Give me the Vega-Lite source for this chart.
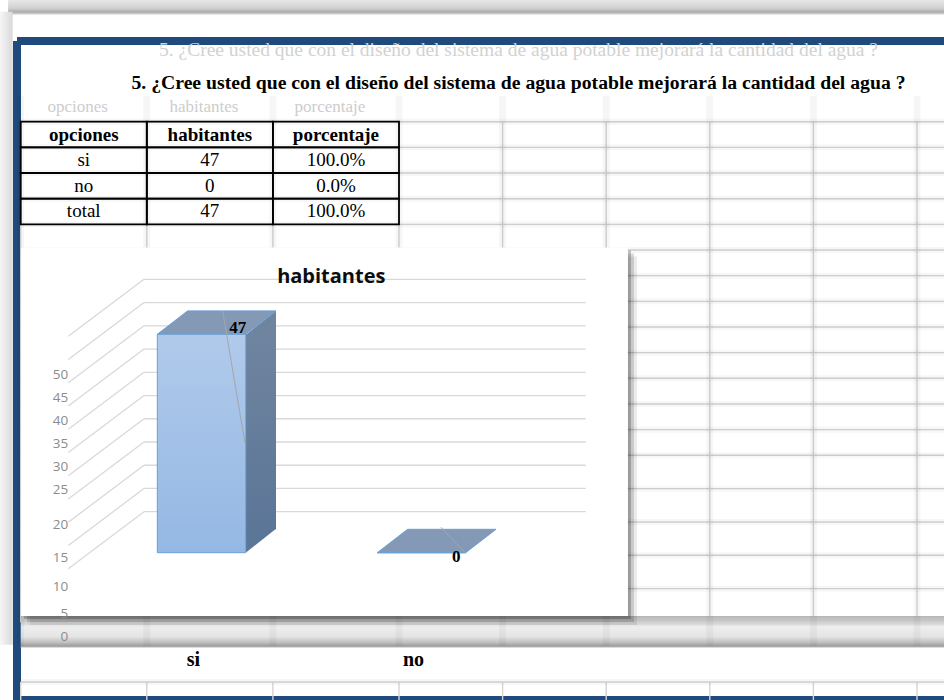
{
  "$schema": "https://vega.github.io/schema/vega-lite/v6.json",
  "width": 927,
  "height": 659,
  "autosize": "none",
  "padding": {"left": 17, "top": 41, "right": 0, "bottom": 0},
  "background": "#ffffff",
  "title": {
    "text": "5. ¿Cree usted que con el diseño del sistema de agua potable mejorará la cantidad del agua ?",
    "subtitle": "5. ¿Cree usted que con el diseño del sistema de agua potable mejorará la cantidad del agua ?",
    "anchor": "middle",
    "frame": "group",
    "offset": -94,
    "dx": 38,
    "font": "Liberation Serif",
    "fontSize": 19.5,
    "fontWeight": "normal",
    "color": "#d2d2d2",
    "subtitleFont": "Liberation Serif",
    "subtitleFontSize": 19.7,
    "subtitleFontWeight": "bold",
    "subtitleColor": "#000000",
    "subtitlePadding": 13
  },
  "config": {
    "view": {"stroke": "#1f4a7c", "strokeWidth": 8, "strokeDash": [927, 659, 1586, 0], "fill": "#ffffff"}
  },
  "datasets": {
    "tabla": [
      {"opciones": "si", "habitantes": 47, "porcentaje": "100.0%"},
      {"opciones": "no", "habitantes": 0, "porcentaje": "0.0%"},
      {"opciones": "total", "habitantes": 47, "porcentaje": "100.0%"}
    ],
    "marcas": [{"v": 0}, {"v": 5}, {"v": 10}, {"v": 15}, {"v": 20}, {"v": 25}, {"v": 30}, {"v": 35}, {"v": 40}, {"v": 45}, {"v": 50}],
    "columnas": [{"borde": 0}, {"borde": 1}, {"borde": 2}, {"borde": 3}, {"borde": 4}, {"borde": 5}, {"borde": 6}, {"borde": 7}, {"borde": 8}, {"borde": 9}],
    "filas": [{"fila": 0}, {"fila": 1}, {"fila": 2}, {"fila": 3}, {"fila": 4}, {"fila": 5}, {"fila": 6}, {"fila": 7}, {"fila": 8}, {"fila": 9}, {"fila": 10}, {"fila": 11}, {"fila": 12}, {"fila": 13}, {"fila": 14}, {"fila": 15}, {"fila": 16}, {"fila": 17}, {"fila": 18}, {"fila": 19}],
    "hoja": [{"objeto": "gráfico"}]
  },
  "layer": [
    {
      "layer": [
        {
          "data": {"name": "hoja"},
          "mark": {"type": "rect", "fill": {"gradient": "linear", "x1": 0, "y1": 0, "x2": 0, "y2": 1, "stops": [{"offset": 0, "color": "#e8e8e8"}, {"offset": 0.55, "color": "#d0d0d0"}, {"offset": 0.8, "color": "#ababab"}, {"offset": 0.92, "color": "#d4d4d4"}, {"offset": 1, "color": "#ffffff"}]}},
          "encoding": {
            "x": {"datum": -0.1, "type": "quantitative", "scale": {"domain": [0, 3, 8], "range": [3.7, 382, 900], "nice": false, "zero": false}, "axis": null},
            "x2": {"datum": 9},
            "y": {"datum": -4.75, "type": "quantitative", "scale": {"domain": [0, 13, 18, 19], "range": [80.7, 414.3, 581, 641], "nice": false, "zero": false}, "axis": null},
            "y2": {"datum": -4.15}
          }
        },
        {
          "data": {"name": "hoja"},
          "mark": {"type": "rect", "fill": {"gradient": "linear", "x1": 0, "y1": 0, "x2": 1, "y2": 0, "stops": [{"offset": 0, "color": "#f6f6f6"}, {"offset": 1, "color": "#d9d9d9"}]}},
          "encoding": {
            "x": {"datum": -0.164, "type": "quantitative", "scale": {"domain": [0, 3, 8], "range": [3.7, 382, 900], "nice": false, "zero": false}, "axis": null},
            "x2": {"datum": -0.0634},
            "y": {"datum": -4.28, "type": "quantitative", "scale": {"domain": [0, 13, 18, 19], "range": [80.7, 414.3, 581, 641], "nice": false, "zero": false}, "axis": null},
            "y2": {"datum": 18.38}
          }
        },
        {
          "data": {"name": "columnas"},
          "mark": {"type": "rule", "color": "#d4d4d4", "strokeWidth": 1.4},
          "encoding": {
            "x": {"field": "borde", "type": "quantitative", "scale": {"domain": [0, 3, 8], "range": [3.7, 382, 900], "nice": false, "zero": false}, "axis": null},
            "y": {"datum": 0, "type": "quantitative", "scale": {"domain": [0, 13, 18, 19], "range": [80.7, 414.3, 581, 641], "nice": false, "zero": false}, "axis": null},
            "y2": {"datum": 18}
          }
        },
        {
          "data": {"name": "columnas"},
          "mark": {"type": "rule", "color": "#d4d4d4", "strokeWidth": 1.4},
          "encoding": {
            "x": {"field": "borde", "type": "quantitative", "scale": {"domain": [0, 3, 8], "range": [3.7, 382, 900], "nice": false, "zero": false}, "axis": null},
            "y": {"datum": 19, "type": "quantitative", "scale": {"domain": [0, 13, 18, 19], "range": [80.7, 414.3, 581, 641], "nice": false, "zero": false}, "axis": null},
            "y2": {"datum": 20}
          }
        },
        {
          "data": {"name": "filas"},
          "mark": {"type": "rule", "color": "#d4d4d4", "strokeWidth": 1.4},
          "encoding": {
            "x": {"datum": 0, "type": "quantitative", "scale": {"domain": [0, 3, 8], "range": [3.7, 382, 900], "nice": false, "zero": false}, "axis": null},
            "x2": {"datum": 9},
            "y": {"field": "fila", "type": "quantitative", "scale": {"domain": [0, 13, 18, 19], "range": [80.7, 414.3, 581, 641], "nice": false, "zero": false}, "axis": null}
          }
        },
        {
          "data": {"name": "hoja"},
          "mark": {"type": "rect", "fill": {"gradient": "linear", "x1": 0, "y1": 0, "x2": 0, "y2": 1, "stops": [{"offset": 0, "color": "#b4b4b4"}, {"offset": 0.2, "color": "#d8d8d8"}, {"offset": 0.35, "color": "#eeeeee"}, {"offset": 0.65, "color": "#e4e4e4"}, {"offset": 0.82, "color": "#c2c2c2"}, {"offset": 0.95, "color": "#9c9c9c"}, {"offset": 1, "color": "#dcdcdc"}]}},
          "encoding": {
            "x": {"datum": 0, "type": "quantitative", "scale": {"domain": [0, 3, 8], "range": [3.7, 382, 900], "nice": false, "zero": false}, "axis": null},
            "x2": {"datum": 9},
            "y": {"datum": 17.82, "type": "quantitative", "scale": {"domain": [0, 13, 18, 19], "range": [80.7, 414.3, 581, 641], "nice": false, "zero": false}, "axis": null},
            "y2": {"datum": 18.43}
          }
        },
        {
          "data": {"name": "columnas"},
          "mark": {"type": "rule", "color": "#000000", "opacity": 0.035, "strokeWidth": 7},
          "encoding": {
            "x": {"field": "borde", "type": "quantitative", "scale": {"domain": [0, 3, 8], "range": [3.7, 382, 900], "nice": false, "zero": false}, "axis": null},
            "y": {"datum": -1, "type": "quantitative", "scale": {"domain": [0, 13, 18, 19], "range": [80.7, 414.3, 581, 641], "nice": false, "zero": false}, "axis": null},
            "y2": {"datum": 18.4}
          }
        },
        {
          "data": {"name": "filas"},
          "mark": {"type": "rule", "color": "#000000", "opacity": 0.03, "strokeWidth": 6},
          "encoding": {
            "x": {"datum": 0, "type": "quantitative", "scale": {"domain": [0, 3, 8], "range": [3.7, 382, 900], "nice": false, "zero": false}, "axis": null},
            "x2": {"datum": 9},
            "y": {"field": "fila", "type": "quantitative", "scale": {"domain": [0, 13, 18, 19], "range": [80.7, 414.3, 581, 641], "nice": false, "zero": false}, "axis": null}
          }
        },
        {
          "data": {"name": "hoja"},
          "mark": {"type": "rect", "color": "#000000", "opacity": 0.08, "xOffset": 9, "x2Offset": 9, "yOffset": 9, "y2Offset": 9},
          "encoding": {
            "x": {"datum": 0.003, "type": "quantitative", "scale": {"domain": [0, 3, 8], "range": [3.7, 382, 900], "nice": false, "zero": false}, "axis": null},
            "x2": {"datum": 5.21},
            "y": {"datum": 4.9, "type": "quantitative", "scale": {"domain": [0, 13, 18, 19], "range": [80.7, 414.3, 581, 641], "nice": false, "zero": false}, "axis": null},
            "y2": {"datum": 17.82}
          }
        },
        {
          "data": {"name": "hoja"},
          "mark": {"type": "rect", "color": "#000000", "opacity": 0.14, "xOffset": 6, "x2Offset": 6, "yOffset": 6, "y2Offset": 6},
          "encoding": {
            "x": {"datum": 0.003, "type": "quantitative", "scale": {"domain": [0, 3, 8], "range": [3.7, 382, 900], "nice": false, "zero": false}, "axis": null},
            "x2": {"datum": 5.21},
            "y": {"datum": 4.9, "type": "quantitative", "scale": {"domain": [0, 13, 18, 19], "range": [80.7, 414.3, 581, 641], "nice": false, "zero": false}, "axis": null},
            "y2": {"datum": 17.82}
          }
        },
        {
          "data": {"name": "hoja"},
          "mark": {"type": "rect", "color": "#000000", "opacity": 0.22, "xOffset": 3, "x2Offset": 3, "yOffset": 3, "y2Offset": 3},
          "encoding": {
            "x": {"datum": 0.003, "type": "quantitative", "scale": {"domain": [0, 3, 8], "range": [3.7, 382, 900], "nice": false, "zero": false}, "axis": null},
            "x2": {"datum": 5.21},
            "y": {"datum": 4.9, "type": "quantitative", "scale": {"domain": [0, 13, 18, 19], "range": [80.7, 414.3, 581, 641], "nice": false, "zero": false}, "axis": null},
            "y2": {"datum": 17.82}
          }
        },
        {
          "data": {"name": "hoja"},
          "mark": {"type": "rect", "color": "#ffffff"},
          "encoding": {
            "x": {"datum": 0.003, "type": "quantitative", "scale": {"domain": [0, 3, 8], "range": [3.7, 382, 900], "nice": false, "zero": false}, "axis": null},
            "x2": {"datum": 5.21},
            "y": {"datum": 4.9, "type": "quantitative", "scale": {"domain": [0, 13, 18, 19], "range": [80.7, 414.3, 581, 641], "nice": false, "zero": false}, "axis": null},
            "y2": {"datum": 17.82}
          }
        }
      ]
    },
    {
      "layer": [
        {
          "data": {"name": "tabla"},
          "transform": [
            {"fold": ["opciones", "habitantes", "porcentaje"], "as": ["columna", "valor"]},
            {"aggregate": [{"op": "count", "as": "n"}], "groupby": ["columna"]}
          ],
          "mark": {"type": "text", "font": "Liberation Serif", "fontSize": 17, "color": "#cdcdcd", "dx": -6, "dy": -2},
          "encoding": {
            "x": {"field": "columna", "type": "nominal", "scale": {"type": "band", "domain": ["opciones", "habitantes", "porcentaje"], "range": [3.7, 382], "paddingInner": 0, "paddingOuter": 0}, "axis": null},
            "y": {"datum": "sombra", "type": "nominal", "scale": {"type": "band", "domain": ["sombra", "cabecera", "si", "no", "total"], "range": [55.05, 183.3], "paddingInner": 0, "paddingOuter": 0}, "axis": null},
            "text": {"field": "columna", "type": "nominal"}
          }
        },
        {
          "data": {"name": "tabla"},
          "transform": [
            {"fold": ["opciones", "habitantes", "porcentaje"], "as": ["columna", "valor"]},
            {"aggregate": [{"op": "count", "as": "n"}], "groupby": ["columna"]}
          ],
          "mark": {"type": "rect", "filled": false, "color": "#000000", "strokeWidth": 1.8},
          "encoding": {
            "x": {"field": "columna", "type": "nominal", "scale": {"type": "band", "domain": ["opciones", "habitantes", "porcentaje"], "range": [3.7, 382], "paddingInner": 0, "paddingOuter": 0}, "axis": null},
            "y": {"datum": "cabecera", "type": "nominal", "scale": {"type": "band", "domain": ["sombra", "cabecera", "si", "no", "total"], "range": [55.05, 183.3], "paddingInner": 0, "paddingOuter": 0}, "axis": null}
          }
        },
        {
          "data": {"name": "tabla"},
          "transform": [
            {"fold": ["opciones", "habitantes", "porcentaje"], "as": ["columna", "valor"]},
            {"aggregate": [{"op": "count", "as": "n"}], "groupby": ["columna"]}
          ],
          "mark": {"type": "text", "font": "Liberation Serif", "fontSize": 19, "fontWeight": "bold", "color": "#000000"},
          "encoding": {
            "x": {"field": "columna", "type": "nominal", "scale": {"type": "band", "domain": ["opciones", "habitantes", "porcentaje"], "range": [3.7, 382], "paddingInner": 0, "paddingOuter": 0}, "axis": null},
            "y": {"datum": "cabecera", "type": "nominal", "scale": {"type": "band", "domain": ["sombra", "cabecera", "si", "no", "total"], "range": [55.05, 183.3], "paddingInner": 0, "paddingOuter": 0}, "axis": null},
            "text": {"field": "columna", "type": "nominal"}
          }
        },
        {
          "data": {"name": "tabla"},
          "transform": [{"fold": ["opciones", "habitantes", "porcentaje"], "as": ["columna", "valor"]}],
          "mark": {"type": "rect", "filled": false, "color": "#000000", "strokeWidth": 1.8},
          "encoding": {
            "x": {"field": "columna", "type": "nominal", "scale": {"type": "band", "domain": ["opciones", "habitantes", "porcentaje"], "range": [3.7, 382], "paddingInner": 0, "paddingOuter": 0}, "axis": null},
            "y": {"field": "opciones", "type": "nominal", "scale": {"type": "band", "domain": ["sombra", "cabecera", "si", "no", "total"], "range": [55.05, 183.3], "paddingInner": 0, "paddingOuter": 0}, "axis": null}
          }
        },
        {
          "data": {"name": "tabla"},
          "transform": [{"fold": ["opciones", "habitantes", "porcentaje"], "as": ["columna", "valor"]}],
          "mark": {"type": "text", "font": "Liberation Serif", "fontSize": 19, "color": "#000000"},
          "encoding": {
            "x": {"field": "columna", "type": "nominal", "scale": {"type": "band", "domain": ["opciones", "habitantes", "porcentaje"], "range": [3.7, 382], "paddingInner": 0, "paddingOuter": 0}, "axis": null},
            "y": {"field": "opciones", "type": "nominal", "scale": {"type": "band", "domain": ["sombra", "cabecera", "si", "no", "total"], "range": [55.05, 183.3], "paddingInner": 0, "paddingOuter": 0}, "axis": null},
            "text": {"field": "valor", "type": "nominal"}
          }
        }
      ]
    },
    {
      "layer": [
        {
          "data": {"name": "marcas"},
          "mark": {"type": "rule", "color": "#d9d9d9", "strokeWidth": 1.3, "xOffset": -57.5, "x2Offset": 384.2, "yOffset": -41, "y2Offset": -41},
          "encoding": {
            "x": {"datum": "si", "type": "nominal", "scale": {"type": "band", "domain": ["si", "no"], "range": [74.5, 514.5], "paddingInner": 0, "paddingOuter": 0}, "axis": null},
            "x2": {"datum": "si"},
            "y": {"field": "v", "type": "quantitative", "scale": {"domain": [0, 50], "range": [511.7, 279.35], "nice": false, "zero": false}, "axis": null},
            "y2": {"field": "v"}
          }
        },
        {
          "data": {"name": "marcas"},
          "mark": {"type": "rule", "color": "#d9d9d9", "strokeWidth": 1.3, "xOffset": -57.5, "x2Offset": -133.2, "yOffset": -41, "y2Offset": 16},
          "encoding": {
            "x": {"datum": "si", "type": "nominal", "scale": {"type": "band", "domain": ["si", "no"], "range": [74.5, 514.5], "paddingInner": 0, "paddingOuter": 0}, "axis": null},
            "x2": {"datum": "si"},
            "y": {"field": "v", "type": "quantitative", "scale": {"domain": [0, 50], "range": [511.7, 279.35], "nice": false, "zero": false}, "axis": null},
            "y2": {"field": "v"}
          }
        },
        {
          "data": {"name": "tabla"},
          "transform": [{"filter": "datum.opciones !== 'total' && datum.habitantes > 0"}],
          "mark": {"type": "bar", "width": 30.3, "xOffset": 59.35, "y2Offset": -23.4, "fill": {"gradient": "linear", "x1": 0, "y1": 0, "x2": 0, "y2": 1, "stops": [{"offset": 0, "color": "#6f849f"}, {"offset": 1, "color": "#5c7698"}]}},
          "encoding": {
            "x": {"field": "opciones", "type": "nominal", "scale": {"type": "band", "domain": ["si", "no"], "range": [74.5, 514.5], "paddingInner": 0, "paddingOuter": 0}, "axis": null},
            "y": {"field": "habitantes", "type": "quantitative", "scale": {"domain": [0, 50], "range": [511.7, 279.35], "nice": false, "zero": false}, "axis": null},
            "y2": {"datum": 0}
          }
        },
        {
          "data": {"name": "tabla"},
          "transform": [{"filter": "datum.opciones !== 'total' && datum.habitantes > 0"}],
          "mark": {"type": "point", "shape": "M44.2,0.6L74.5,-23.4L74.5,0.6Z", "size": 4, "filled": true, "opacity": 1, "fill": "#6f849f", "strokeWidth": 0},
          "encoding": {
            "x": {"field": "opciones", "type": "nominal", "scale": {"type": "band", "domain": ["si", "no"], "range": [74.5, 514.5], "paddingInner": 0, "paddingOuter": 0}, "axis": null},
            "y": {"field": "habitantes", "type": "quantitative", "scale": {"domain": [0, 50], "range": [511.7, 279.35], "nice": false, "zero": false}, "axis": null}
          }
        },
        {
          "data": {"name": "tabla"},
          "transform": [{"filter": "datum.opciones !== 'total' && datum.habitantes > 0"}],
          "mark": {"type": "point", "shape": "M44.2,-23.9L74.5,-23.9L44.2,0Z", "size": 4, "filled": true, "opacity": 1, "fill": "#5c7698", "strokeWidth": 0},
          "encoding": {
            "x": {"field": "opciones", "type": "nominal", "scale": {"type": "band", "domain": ["si", "no"], "range": [74.5, 514.5], "paddingInner": 0, "paddingOuter": 0}, "axis": null},
            "y": {"datum": 0, "type": "quantitative", "scale": {"domain": [0, 50], "range": [511.7, 279.35], "nice": false, "zero": false}, "axis": null}
          }
        },
        {
          "data": {"name": "tabla"},
          "transform": [{"filter": "datum.opciones !== 'total'"}],
          "mark": {"type": "point", "shape": "M-44.2,0L44.2,0L74.5,-23.4L-13.9,-23.4Z", "size": 4, "filled": true, "opacity": 1, "fill": "#8499b6", "stroke": "#6a9fd8", "strokeWidth": 1},
          "encoding": {
            "x": {"field": "opciones", "type": "nominal", "scale": {"type": "band", "domain": ["si", "no"], "range": [74.5, 514.5], "paddingInner": 0, "paddingOuter": 0}, "axis": null},
            "y": {"field": "habitantes", "type": "quantitative", "scale": {"domain": [0, 50], "range": [511.7, 279.35], "nice": false, "zero": false}, "axis": null}
          }
        },
        {
          "data": {"name": "tabla"},
          "transform": [{"filter": "datum.opciones !== 'total'"}],
          "mark": {"type": "bar", "width": 88.4, "stroke": "#6a9fd8", "strokeWidth": 1, "fill": {"gradient": "linear", "x1": 0, "y1": 0, "x2": 0, "y2": 1, "stops": [{"offset": 0, "color": "#b0caeb"}, {"offset": 1, "color": "#94b8e4"}]}},
          "encoding": {
            "x": {"field": "opciones", "type": "nominal", "scale": {"type": "band", "domain": ["si", "no"], "range": [74.5, 514.5], "paddingInner": 0, "paddingOuter": 0}, "axis": null},
            "y": {"field": "habitantes", "type": "quantitative", "scale": {"domain": [0, 50], "range": [511.7, 279.35], "nice": false, "zero": false}, "axis": null},
            "y2": {"datum": 0}
          }
        },
        {
          "data": {"name": "tabla"},
          "transform": [{"filter": "datum.opciones !== 'total' && datum.habitantes > 0"}],
          "mark": {"type": "rule", "color": "#a6a6a6", "strokeWidth": 1, "xOffset": 21.2, "x2Offset": 43.5, "yOffset": -23.3, "y2Offset": 109},
          "encoding": {
            "x": {"field": "opciones", "type": "nominal", "scale": {"type": "band", "domain": ["si", "no"], "range": [74.5, 514.5], "paddingInner": 0, "paddingOuter": 0}, "axis": null},
            "x2": {"field": "opciones"},
            "y": {"field": "habitantes", "type": "quantitative", "scale": {"domain": [0, 50], "range": [511.7, 279.35], "nice": false, "zero": false}, "axis": null},
            "y2": {"field": "habitantes"}
          }
        },
        {
          "data": {"name": "tabla"},
          "transform": [{"filter": "datum.opciones !== 'total' && datum.habitantes == 0"}],
          "mark": {"type": "rule", "color": "#a6a6a6", "strokeWidth": 1, "xOffset": 19.5, "x2Offset": 43.5, "yOffset": -25.4, "y2Offset": 0},
          "encoding": {
            "x": {"field": "opciones", "type": "nominal", "scale": {"type": "band", "domain": ["si", "no"], "range": [74.5, 514.5], "paddingInner": 0, "paddingOuter": 0}, "axis": null},
            "x2": {"field": "opciones"},
            "y": {"field": "habitantes", "type": "quantitative", "scale": {"domain": [0, 50], "range": [511.7, 279.35], "nice": false, "zero": false}, "axis": null},
            "y2": {"field": "habitantes"}
          }
        },
        {
          "data": {"name": "tabla"},
          "transform": [{"filter": "datum.opciones !== 'total' && datum.habitantes > 0"}],
          "mark": {"type": "text", "font": "Liberation Serif", "fontSize": 17, "fontWeight": "bold", "color": "#000000", "dx": 36.2, "dy": -6.3, "baseline": "middle"},
          "encoding": {
            "x": {"field": "opciones", "type": "nominal", "scale": {"type": "band", "domain": ["si", "no"], "range": [74.5, 514.5], "paddingInner": 0, "paddingOuter": 0}, "axis": null},
            "y": {"field": "habitantes", "type": "quantitative", "scale": {"domain": [0, 50], "range": [511.7, 279.35], "nice": false, "zero": false}, "axis": null},
            "text": {"field": "habitantes", "type": "quantitative"}
          }
        },
        {
          "data": {"name": "tabla"},
          "transform": [{"filter": "datum.opciones !== 'total' && datum.habitantes == 0"}],
          "mark": {"type": "text", "font": "Liberation Serif", "fontSize": 17, "fontWeight": "bold", "color": "#000000", "dx": 34.7, "dy": 4.5, "baseline": "middle"},
          "encoding": {
            "x": {"field": "opciones", "type": "nominal", "scale": {"type": "band", "domain": ["si", "no"], "range": [74.5, 514.5], "paddingInner": 0, "paddingOuter": 0}, "axis": null},
            "y": {"field": "habitantes", "type": "quantitative", "scale": {"domain": [0, 50], "range": [511.7, 279.35], "nice": false, "zero": false}, "axis": null},
            "text": {"field": "habitantes", "type": "quantitative"}
          }
        },
        {
          "data": {"name": "hoja"},
          "mark": {"type": "text", "text": "habitantes", "font": "Open Sans", "fontSize": 20, "fontWeight": "bold", "color": "#0d0d0d", "dx": 129.8, "dy": -37, "baseline": "alphabetic", "align": "center"},
          "encoding": {
            "x": {"datum": "si", "type": "nominal", "scale": {"type": "band", "domain": ["si", "no"], "range": [74.5, 514.5], "paddingInner": 0, "paddingOuter": 0}, "axis": null},
            "y": {"datum": 50, "type": "quantitative", "scale": {"domain": [0, 50], "range": [511.7, 279.35], "nice": false, "zero": false}, "axis": null}
          }
        }
      ]
    },
    {
      "data": {"name": "marcas"},
      "mark": {"type": "point", "opacity": 0},
      "encoding": {
        "y": {
          "field": "v",
          "type": "quantitative",
          "scale": {"domain": [0, 5, 10, 15, 20, 25, 50], "range": [595.7, 572.3, 545, 516.7, 483.3, 448, 333.3], "nice": false, "zero": false},
          "axis": {"orient": "left", "offset": -50.7, "zindex": 2, "values": [0, 5, 10, 15, 20, 25, 30, 35, 40, 45, 50], "title": null, "domain": false, "ticks": false, "tickSize": 0, "labelPadding": 0, "grid": false, "labelFont": "Open Sans", "labelFontSize": 13.5, "labelColor": "#8c8c8c", "labelOverlap": false, "labelFlush": false}
        }
      }
    },
    {
      "data": {"name": "tabla"},
      "transform": [{"filter": "datum.opciones !== 'total'"}],
      "mark": {"type": "point", "opacity": 0},
      "encoding": {
        "x": {
          "field": "opciones",
          "type": "nominal",
          "scale": {"type": "band", "domain": ["si", "no"], "range": [74.5, 514.5], "paddingInner": 0, "paddingOuter": 0},
          "axis": {"orient": "bottom", "offset": -51, "zindex": 2, "title": null, "domain": false, "ticks": false, "tickSize": 0, "labelPadding": 0, "labelOffset": -8, "labelAngle": 0, "labelFont": "Liberation Serif", "labelFontSize": 20, "labelFontWeight": "bold", "labelColor": "#000000", "grid": false}
        }
      }
    }
  ],
  "resolve": {"scale": {"x": "independent", "y": "independent"}, "axis": {"x": "independent", "y": "independent"}}
}
